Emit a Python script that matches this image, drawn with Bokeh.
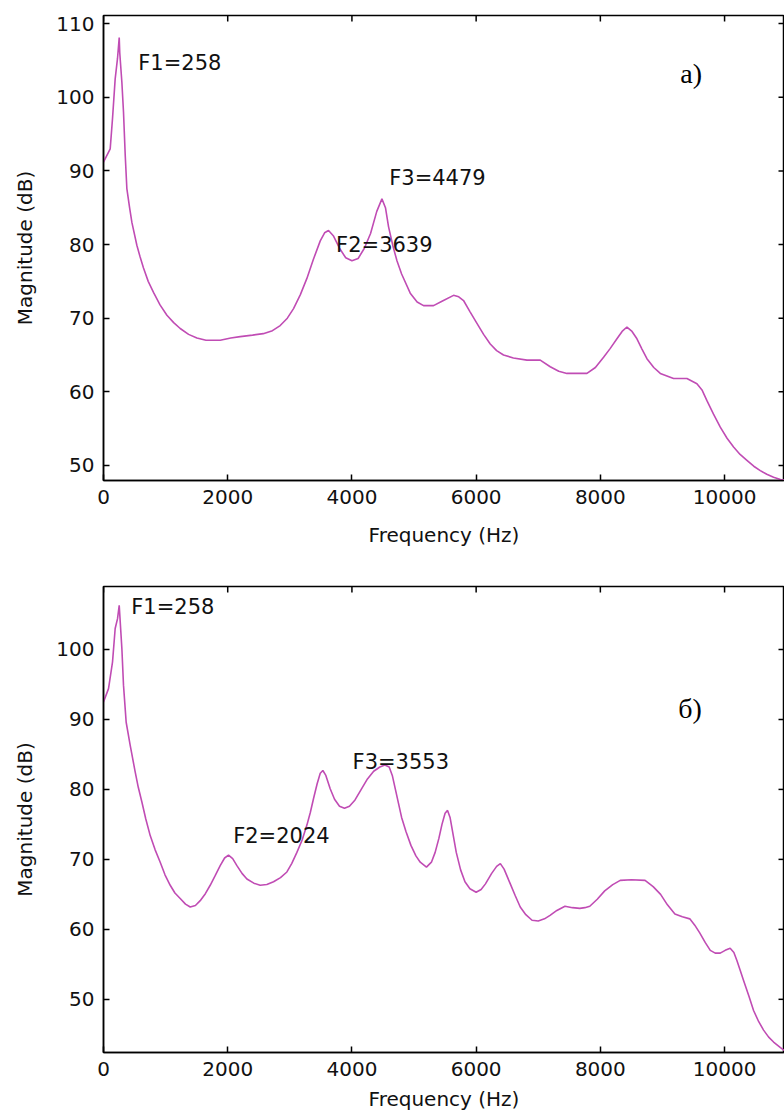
import math
from bokeh.plotting import figure
from bokeh.layouts import column
from bokeh.models import Range1d, FixedTicker, Label
from bokeh.embed import file_html
from bokeh.resources import INLINE

# ---- data ----
freq_a = [0, 108, 145, 188, 226, 253, 262, 296, 322, 350, 376, 420, 457, 537, 590, 644, 720, 805,
          910, 1021, 1130, 1235, 1370, 1504, 1650, 1879, 2050, 2201, 2400, 2572, 2720, 2845,
          2960, 3060, 3170, 3275, 3380, 3490, 3560, 3623, 3700, 3800, 3900, 4000, 4100, 4200,
          4300, 4400, 4483, 4540, 4590, 4660, 4725, 4800, 4939, 5050, 5153, 5314, 5450, 5636,
          5720, 5797, 5900, 6013, 6120, 6227, 6330, 6441, 6600, 6818, 7032, 7193, 7330, 7462,
          7784, 7920, 8052, 8160, 8267, 8350, 8428, 8510, 8589, 8670, 8750, 8860, 8965, 9179,
          9394, 9555, 9640, 9716, 9820, 9931, 10040, 10145, 10250, 10360, 10470, 10575, 10680,
          10789, 10900, 11025]
mag_a = [91.2, 93.0, 97.1, 102.5, 105.3, 108.1, 106.0, 102.0, 98.0, 92.1, 87.6, 85.0, 83.0, 79.9,
         78.3, 76.8, 75.0, 73.5, 71.8, 70.4, 69.4, 68.6, 67.8, 67.3, 67.0, 67.0, 67.3, 67.5,
         67.7, 67.9, 68.3, 69.0, 70.0, 71.3, 73.2, 75.4, 78.0, 80.5, 81.6, 81.9, 81.2, 79.5,
         78.2, 77.8, 78.1, 79.5, 81.5, 84.5, 86.2, 85.0, 82.4, 79.8, 77.8, 76.0, 73.4, 72.2,
         71.7, 71.7, 72.3, 73.1, 72.9, 72.4, 70.9, 69.3, 67.8, 66.5, 65.6, 65.0, 64.6, 64.3,
         64.3, 63.4, 62.8, 62.5, 62.5, 63.3, 64.7, 65.9, 67.2, 68.2, 68.8, 68.2, 67.2, 65.8,
         64.5, 63.3, 62.5, 61.8, 61.8, 61.1, 60.2, 58.8, 57.0, 55.2, 53.7, 52.5, 51.5, 50.7,
         49.9, 49.3, 48.8, 48.4, 48.1, 48.0]

freq_b = [0, 81, 145, 188, 226, 253, 296, 322, 365, 430, 510, 560, 618, 680, 752, 830, 913, 990,
          1074, 1150, 1235, 1320, 1396, 1480, 1557, 1640, 1718, 1800, 1879, 1950, 2013, 2080,
          2148, 2230, 2309, 2420, 2523, 2630, 2738, 2850, 2953, 3030, 3114, 3200, 3275, 3330,
          3382, 3440, 3490, 3532, 3580, 3650, 3720, 3800, 3880, 3960, 4050, 4150, 4250, 4350,
          4450, 4530, 4600, 4650, 4700, 4750, 4800, 4870, 4950, 5030, 5100, 5200, 5280, 5340,
          5400, 5450, 5500, 5540, 5580, 5620, 5680, 5750, 5820, 5900, 6000, 6080, 6150, 6250,
          6330, 6390, 6450, 6550, 6630, 6710, 6800, 6900, 7000, 7100, 7190, 7300, 7430, 7550,
          7670, 7750, 7830, 7950, 8070, 8200, 8320, 8500, 8720, 8850, 8970, 9080, 9200, 9320,
          9440, 9520, 9600, 9690, 9770, 9850, 9930, 10010, 10090, 10150, 10200, 10250, 10306,
          10390, 10467, 10550, 10628, 10710, 10789, 10900, 11025]
mag_b = [92.5, 94.4, 98.2, 103.0, 104.4, 106.3, 100.1, 94.9, 89.6, 86.3, 82.5, 80.3, 78.2, 75.8,
         73.4, 71.4, 69.6, 67.8, 66.3, 65.2, 64.4, 63.6, 63.2, 63.4, 64.1, 65.1, 66.3, 67.7,
         69.1, 70.2, 70.6, 70.1, 69.1, 68.0, 67.2, 66.6, 66.3, 66.4, 66.8, 67.4, 68.2, 69.4,
         71.0, 72.8, 74.9, 76.7, 78.7, 80.8, 82.3, 82.7, 82.0, 80.1, 78.6, 77.6, 77.3, 77.6,
         78.5, 80.0, 81.5, 82.6, 83.2, 83.5, 83.2, 82.0, 80.0, 78.0, 76.0, 74.0, 72.0, 70.5,
         69.6, 68.9, 69.6, 71.0, 73.0, 75.0, 76.6, 77.0, 76.0, 74.0, 71.0, 68.5, 66.8, 65.8,
         65.3, 65.7, 66.5, 68.0, 69.0, 69.4, 68.6, 66.5, 64.8, 63.2, 62.1, 61.3, 61.2, 61.5,
         62.0, 62.7, 63.3, 63.1, 63.0, 63.1, 63.3, 64.3, 65.5, 66.4, 67.0, 67.1, 67.0, 66.1,
         65.0, 63.5, 62.2, 61.8, 61.5, 60.6, 59.5, 58.1, 57.0, 56.6, 56.6, 57.0, 57.3, 56.7,
         55.5, 54.2, 52.7, 50.5, 48.4, 46.8, 45.6, 44.6, 43.9, 43.1, 42.3]

x_ticks = [0, 2000, 4000, 6000, 8000, 10000]
y_ticks_a = [50, 60, 70, 80, 90, 100, 110]
y_ticks_b = [50, 60, 70, 80, 90, 100]

labels_a = [("F1=258", 560, 104.6), ("F3=4479", 4600, 89.0), ("F2=3639", 3745, 79.9)]
labels_b = [("F1=258", 447, 106.0), ("F2=2024", 2088, 73.4), ("F3=3553", 4010, 83.9)]

LINE = "#c04cb4"
FONT = "DejaVu Sans"
X_END = 10965


def make(freq, mag, yr, yticks, labels, tag, tag_pos, fh, top, bottom, xlab_standoff):
    p = figure(frame_width=681, frame_height=fh,
               x_range=Range1d(0, X_END), y_range=Range1d(*yr),
               output_backend="svg", toolbar_location=None,
               min_border_left=103, min_border_right=0, min_border_top=top,
               min_border_bottom=bottom, x_axis_label="Frequency (Hz)",
               y_axis_label="Magnitude (dB)")
    p.line(freq, mag, line_color=LINE, line_width=1.6)
    # inward ticks on the top and right box edges (clipped to the frame)
    p.scatter(x_ticks, [yr[1]] * len(x_ticks), marker="dash", size=12, angle=math.pi / 2,
              line_color="black", line_width=1.5)
    p.scatter([X_END] * len(yticks), yticks, marker="dash", size=12,
              line_color="black", line_width=1.5)
    p.grid.visible = False
    p.outline_line_color = "black"
    p.outline_line_width = 1.5
    p.background_fill_color = "white"
    p.border_fill_color = "white"
    p.xaxis.ticker = FixedTicker(ticks=x_ticks)
    p.yaxis.ticker = FixedTicker(ticks=yticks)
    for ax in (p.xaxis[0], p.yaxis[0]):
        ax.major_tick_in = 6
        ax.major_tick_out = 0
        ax.minor_tick_line_color = None
        ax.axis_line_width = 1.5
        ax.axis_line_color = "black"
        ax.major_tick_line_width = 1.5
        ax.major_tick_line_color = "black"
        ax.major_label_text_font = FONT
        ax.major_label_text_font_size = "20px"
        ax.major_label_text_color = "#111111"
        ax.axis_label_text_font = FONT
        ax.axis_label_text_font_size = "20px"
        ax.axis_label_text_font_style = "normal"
        ax.axis_label_text_color = "#111111"
        ax.major_label_standoff = 9
    p.xaxis.axis_label_standoff = xlab_standoff
    p.yaxis.axis_label_standoff = 16
    for txt, x, y in labels:
        p.add_layout(Label(x=x, y=y, text=txt, text_font=FONT, text_font_size="21px",
                           text_baseline="middle", text_align="left", text_color="#111111"))
    p.add_layout(Label(x=tag_pos[0], y=tag_pos[1], text=tag, text_font="Liberation Serif",
                       text_font_size="28px", text_baseline="middle", text_align="left",
                       text_color="black"))
    return p


p1 = make(freq_a, mag_a, (47.96, 111.1), y_ticks_a, labels_a, "a)", (9287, 103.2), 465, 15, 80, 16)
p2 = make(freq_b, mag_b, (42.4, 109.0), y_ticks_b, labels_b, "б)", (9255, 91.6), 466, 26, 63, 8)

layout = column(p1, p2, spacing=0)
open("out.html", "w").write(file_html(layout, INLINE))
